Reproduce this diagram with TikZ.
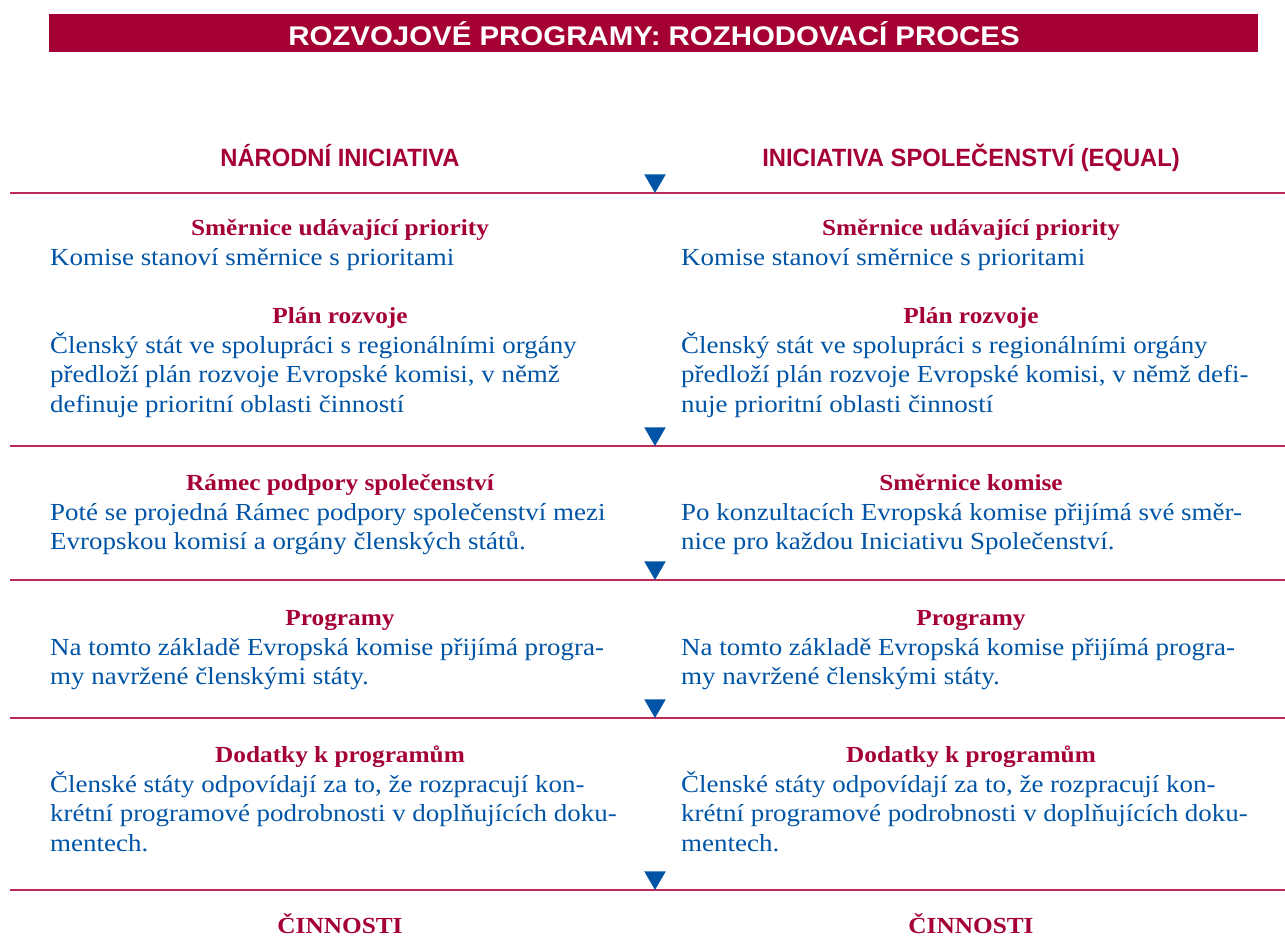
\documentclass[tikz,border=0pt]{standalone}
\usepackage{fontspec}
\setmainfont[FakeStretch=1.1]{Liberation Serif}
\newfontfamily\headfont[FakeStretch=0.95]{Liberation Sans}
\newfontfamily\titlefont[FakeStretch=1.09]{Liberation Sans}
\usetikzlibrary{shapes.geometric}

\definecolor{eured}{HTML}{A50034}
\definecolor{eublue}{HTML}{0054A6}
\definecolor{linered}{HTML}{BC2A55}

\tikzset{
  colhead/.style={text=eured, font=\headfont\bfseries\fontsize{25}{28}\selectfont, anchor=base, inner sep=0pt},
  parthead/.style={text=eured, font=\bfseries\fontsize{23}{28}\selectfont, anchor=base, inner sep=0pt},
  parttext/.style={text=eublue, font=\fontsize{24.5}{29.5}\selectfont, anchor=base west, align=left, inner sep=0pt},
  sepline/.style={draw=linered, line width=1.6pt},
  arrowtri/.style={regular polygon, regular polygon sides=3, shape border rotate=180, fill=eublue, inner sep=0pt, outer sep=0pt, minimum size=25pt, anchor=corner 1}
}

\begin{document}
\begin{tikzpicture}[x=1pt, y=-1pt]

\useasboundingbox (0,0) rectangle (1285,947);

\fill [eured] (49,14) rectangle (1258,52);
\node [text=white, font=\titlefont\bfseries\fontsize{27}{30}\selectfont, inner sep=0pt, anchor=base] (title) at (654,46) {ROZVOJOVÉ PROGRAMY: ROZHODOVACÍ PROCES};

\node [colhead] (nat) at (340,167) {NÁRODNÍ INICIATIVA};
\node [colhead] (com) at (971,167) {INICIATIVA SPOLEČENSTVÍ (EQUAL)};

% separator lines
\coordinate (s1w) at (10,193);  \coordinate (s1e) at (1285,193);
\coordinate (s2w) at (10,446);  \coordinate (s2e) at (1285,446);
\coordinate (s3w) at (10,580);  \coordinate (s3e) at (1285,580);
\coordinate (s4w) at (10,718);  \coordinate (s4e) at (1285,718);
\coordinate (s5w) at (10,890);  \coordinate (s5e) at (1285,890);
\draw [sepline] (s1w) -- (s1e);
\draw [sepline] (s2w) -- (s2e);
\draw [sepline] (s3w) -- (s3e);
\draw [sepline] (s4w) -- (s4e);
\draw [sepline] (s5w) -- (s5e);

% arrows
\node [arrowtri] (t1) at (655,193) {};
\node [arrowtri] (t2) at (655,446) {};
\node [arrowtri] (t3) at (655,580) {};
\node [arrowtri] (t4) at (655,718) {};
\node [arrowtri] (t5) at (655,890) {};

% left column (text nodes sit on the baseline of their last line)
\node [parthead] (nh1) at (340,235) {Směrnice udávající priority};
\node [parttext] (nt1) at (50,265) {Komise stanoví směrnice s prioritami};
\node [parthead] (nh2) at (340,323) {Plán rozvoje};
\node [parttext] (nt2) at (50,412) {Členský stát ve spolupráci s regionálními orgány\\předloží plán rozvoje Evropské komisi, v němž\\definuje prioritní oblasti činností};
\node [parthead] (nh3) at (340,490) {Rámec podpory společenství};
\node [parttext] (nt3) at (50,549.5) {Poté se projedná Rámec podpory společenství mezi\\Evropskou komisí a orgány členských států.};
\node [parthead] (nh4) at (340,625) {Programy};
\node [parttext] (nt4) at (50,684.5) {Na tomto základě Evropská komise přijímá progra-\\my navržené členskými státy.};
\node [parthead] (nh5) at (340,762) {Dodatky k programům};
\node [parttext] (nt5) at (50,851) {Členské státy odpovídají za to, že rozpracují kon-\\krétní programové podrobnosti v doplňujících doku-\\mentech.};
\node [parthead] (nh6) at (340,933) {ČINNOSTI};

% right column
\node [parthead] (ch1) at (971,235) {Směrnice udávající priority};
\node [parttext] (ct1) at (681,265) {Komise stanoví směrnice s prioritami};
\node [parthead] (ch2) at (971,323) {Plán rozvoje};
\node [parttext] (ct2) at (681,412) {Členský stát ve spolupráci s regionálními orgány\\předloží plán rozvoje Evropské komisi, v němž defi-\\nuje prioritní oblasti činností};
\node [parthead] (ch3) at (971,490) {Směrnice komise};
\node [parttext] (ct3) at (681,549.5) {Po konzultacích Evropská komise přijímá své směr-\\nice pro každou Iniciativu Společenství.};
\node [parthead] (ch4) at (971,625) {Programy};
\node [parttext] (ct4) at (681,684.5) {Na tomto základě Evropská komise přijímá progra-\\my navržené členskými státy.};
\node [parthead] (ch5) at (971,762) {Dodatky k programům};
\node [parttext] (ct5) at (681,851) {Členské státy odpovídají za to, že rozpracují kon-\\krétní programové podrobnosti v doplňujících doku-\\mentech.};
\node [parthead] (ch6) at (971,933) {ČINNOSTI};

\end{tikzpicture}
\end{document}
